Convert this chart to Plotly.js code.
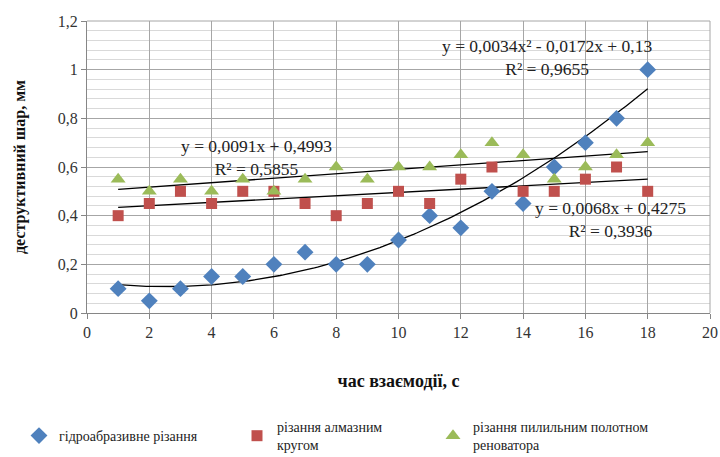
<!DOCTYPE html>
<html>
<head>
<meta charset="utf-8">
<script src="https://cdn.plot.ly/plotly-3.0.1.min.js"></script>
<style>html,body{margin:0;padding:0;background:#fff;}#chart{width:720px;height:457px;}</style>
</head>
<body>
<div id="chart"></div>
<script>
// Data
var timeX = [1,2,3,4,5,6,7,8,9,10,11,12,13,14,15,16,17,18];
var hydroY = [0.1,0.05,0.1,0.15,0.15,0.2,0.25,0.2,0.2,0.3,0.4,0.35,0.5,0.45,0.6,0.7,0.8,1.0];
var diamondY = [0.4,0.45,0.5,0.45,0.5,0.5,0.45,0.4,0.45,0.5,0.45,0.55,0.6,0.5,0.5,0.55,0.6,0.5];
var sawY = [0.55,0.5,0.55,0.5,0.55,0.5,0.55,0.6,0.55,0.6,0.6,0.65,0.7,0.65,0.55,0.6,0.65,0.7];
var seriesNames = ['гідроабразивне різання','різання алмазним<br>кругом','різання пилильним полотном<br>реноватора'];
// Trendline coefficients as printed on the chart
var hydroFit = [0.0034, -0.0172, 0.13];   // quadratic a, b, c
var diamondFit = [0.0068, 0.4275];        // linear slope, intercept
var sawFit = [0.0091, 0.4993];            // linear slope, intercept
var eqTexts = ['y = 0,0034x² - 0,0172x + 0,13<br>R² = 0,9655',
               'y = 0,0068x + 0,4275<br>R² = 0,3936',
               'y = 0,0091x + 0,4993<br>R² = 0,5855'];

var fitX = [];
for (var i = 0; i <= 170; i++) fitX.push(1 + i * 0.1);
var hydroFitY = fitX.map(function(x){return hydroFit[0]*x*x + hydroFit[1]*x + hydroFit[2];});
var diamondFitY = fitX.map(function(x){return diamondFit[0]*x + diamondFit[1];});
var sawFitY = fitX.map(function(x){return sawFit[0]*x + sawFit[1];});

var serif = '"Liberation Serif", "Times New Roman", serif';
var lineStyle = {color:'#000', width:1.3};

var traces = [
  {x:fitX, y:hydroFitY, mode:'lines', line:lineStyle, showlegend:false, hoverinfo:'skip'},
  {x:fitX, y:diamondFitY, mode:'lines', line:lineStyle, showlegend:false, hoverinfo:'skip'},
  {x:fitX, y:sawFitY, mode:'lines', line:lineStyle, showlegend:false, hoverinfo:'skip'},
  {x:timeX, y:hydroY, mode:'markers', name:seriesNames[0], legend:'legend',
   marker:{symbol:'diamond', size:13, color:'#4F81BD'}},
  {x:timeX, y:diamondY, mode:'markers', name:seriesNames[1], legend:'legend2',
   marker:{symbol:'square', size:11, color:'#C0504D'}},
  {x:timeX, y:sawY, mode:'markers', name:seriesNames[2], legend:'legend3',
   marker:{symbol:'triangle-up', size:13, color:'#9BBB59'}}
];

var legendBase = {orientation:'h', xref:'container', yref:'container', yanchor:'middle', xanchor:'left',
  y: 1 - 436/457, font:{family:serif, size:14, color:'#222'}, bgcolor:'rgba(0,0,0,0)', borderwidth:0,
  tracegroupgap:0};

var layout = {
  width:720, height:457,
  margin:{l:87, r:10, t:21, b:144},
  paper_bgcolor:'#fff', plot_bgcolor:'#fff',
  separators:', ',
  font:{family:serif, color:'#222'},
  xaxis:{range:[0,20], dtick:2, tick0:0, showgrid:true, gridcolor:'#a6a6a6', gridwidth:1,
    zeroline:false, showline:true, linecolor:'#868686', linewidth:1,
    ticks:'outside', ticklen:5, tickcolor:'#868686',
    tickfont:{family:serif, size:16, color:'#333'},
    title:{text:'<b>час взаємодії, с</b>', font:{family:serif, size:18, color:'#111'}, standoff:34}},
  yaxis:{range:[0,1.2], dtick:0.2, tick0:0, showgrid:true, gridcolor:'#a6a6a6', gridwidth:1,
    zeroline:false, showline:true, linecolor:'#868686', linewidth:1,
    ticks:'outside', ticklen:5, tickcolor:'#868686',
    tickfont:{family:serif, size:16, color:'#333'},
    minor:{dtick:0.04, showgrid:true, gridcolor:'#d9d9d9', gridwidth:1, ticks:''},
    title:{text:'<b>деструктивний шар, мм</b>', font:{family:serif, size:16, color:'#111'}, standoff:28}},
  showlegend:true,
  legend: Object.assign({}, legendBase, {x:19/720}),
  legend2: Object.assign({}, legendBase, {x:237/720}),
  legend3: Object.assign({}, legendBase, {x:433/720}),
  shapes:[
    {type:'line', xref:'paper', yref:'paper', x0:1, x1:1, y0:0, y1:1, line:{color:'#a6a6a6', width:1}},
    {type:'line', xref:'paper', yref:'paper', x0:0, x1:1, y0:1, y1:1, line:{color:'#a6a6a6', width:1}}
  ],
  annotations:[
    {x:14.77, y:1.049, xref:'x', yref:'y', text:eqTexts[0], showarrow:false, align:'center',
     font:{family:serif, size:17.5, color:'#222'}},
    {x:16.82, y:0.383, xref:'x', yref:'y', text:eqTexts[1], showarrow:false, align:'center',
     font:{family:serif, size:17.5, color:'#222'}},
    {x:5.43, y:0.64, xref:'x', yref:'y', text:eqTexts[2], showarrow:false, align:'center',
     font:{family:serif, size:17.5, color:'#222'}}
  ]
};

Plotly.newPlot('chart', traces, layout, {staticPlot:true, displayModeBar:false});
</script>
</body>
</html>
